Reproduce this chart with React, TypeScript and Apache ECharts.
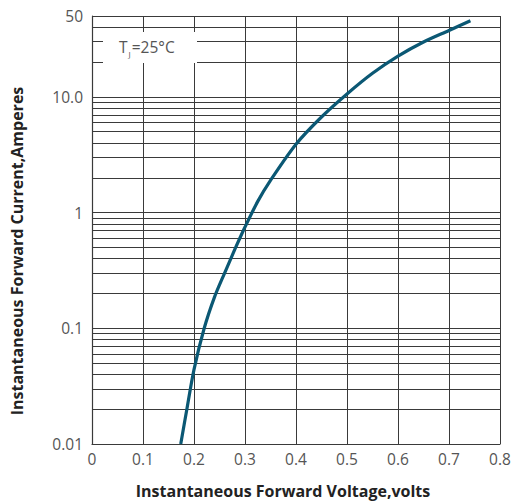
import React, { useEffect, useRef } from "react";
import * as echarts from "echarts";

const xTicks = [0, 0.1, 0.2, 0.3, 0.4, 0.5, 0.6, 0.7, 0.8];
const voltage = [0.174, 0.186, 0.2, 0.22, 0.24, 0.26, 0.28, 0.3, 0.325, 0.35, 0.4, 0.45, 0.5, 0.55, 0.6, 0.65, 0.7, 0.742];
const current = [0.01, 0.02, 0.044, 0.1, 0.185, 0.3, 0.48, 0.75, 1.25, 1.9, 3.9, 6.7, 10.6, 16, 22.5, 29.8, 37.5, 45.5];
const minorGrid = [
  0.02, 0.03, 0.04, 0.05, 0.06, 0.07, 0.08, 0.09,
  0.2, 0.3, 0.4, 0.5, 0.6, 0.7, 0.8, 0.9,
  2, 3, 4, 5, 6, 7, 8, 9,
  20, 30, 40,
];
const xName = "Instantaneous Forward Voltage,volts";
const yName = "Instantaneous Forward Current,Amperes";
const tempLabel = "{a|T}{b|J}{a|=25°C}";

export default function App() {
  const ref = useRef<HTMLDivElement>(null);
  useEffect(() => {
    if (!ref.current) return;
    const chart = echarts.init(ref.current, null, { renderer: "svg" });
    const font = "'Open Sans', 'Noto Sans', sans-serif";
    const gridColor = "#3a3a3a";
    chart.setOption({
      animation: false,
      backgroundColor: "#ffffff",
      grid: { left: 92, right: 15, top: 16, bottom: 59, containLabel: false },
      xAxis: {
        type: "value",
        min: 0,
        max: 0.8,
        interval: 0.1,
        axisLine: { show: true, lineStyle: { color: gridColor, width: 1.2 } },
        axisTick: { show: false },
        axisLabel: {
          fontFamily: font,
          fontSize: 15.5,
          color: "#555",
          margin: 7,
          formatter: (v: number) => {
            const m = xTicks.find((t) => Math.abs(t - v) < 1e-6);
            return m === undefined ? "" : String(m);
          },
        },
        splitLine: { show: true, lineStyle: { color: gridColor, width: 1 } },
      },
      yAxis: {
        type: "log",
        min: 0.01,
        max: 50,
        logBase: 10,
        axisLine: { show: true, lineStyle: { color: gridColor, width: 1.2 } },
        axisTick: { show: false },
        axisLabel: {
          fontFamily: font,
          fontSize: 15.5,
          color: "#555",
          margin: 9,
          formatter: (v: number) => {
            if (Math.abs(v - 10) < 1e-6) return "10.0";
            return String(parseFloat(v.toPrecision(6)));
          },
        },
        splitLine: { show: true, lineStyle: { color: gridColor, width: 1 } },
      },
      series: [
        {
          type: "line",
          data: voltage.map((v, i) => [v, current[i]]),
          smooth: 0.3,
          showSymbol: false,
          lineStyle: { color: "#0b5874", width: 3.2 },
          z: 5,
          markLine: {
            silent: true,
            symbol: "none",
            label: { show: false },
            lineStyle: { color: gridColor, width: 1, type: "solid" },
            data: minorGrid.map((g) => ({ yAxis: g })),
          },
        },
      ],
      graphic: [
        {
          type: "rect",
          shape: { x: 103, y: 32, width: 94, height: 31 },
          style: { fill: "#ffffff" },
          z: 100,
        },
        {
          type: "text",
          x: 119,
          y: 37,
          z: 101,
          style: {
            text: tempLabel,
            rich: {
              a: { fontFamily: font, fontSize: 15.5, fill: "#555", lineHeight: 20 },
              b: { fontFamily: font, fontSize: 8, fill: "#555", lineHeight: 20, padding: [12, 1, 0, 1] },
            },
          },
        },
        {
          type: "text",
          x: 283,
          y: 491,
          z: 101,
          style: {
            text: xName,
            fontFamily: font,
            fontWeight: "bold",
            fontSize: 16,
            fill: "#222",
            align: "center",
            verticalAlign: "middle",
          },
        },
        {
          type: "text",
          x: 17,
          y: 251,
          rotation: Math.PI / 2,
          z: 101,
          style: {
            text: yName,
            fontFamily: font,
            fontWeight: "bold",
            fontSize: 16,
            fill: "#222",
            align: "center",
            verticalAlign: "middle",
          },
        },
      ],
    });
    return () => chart.dispose();
  }, []);
  return (
    <div
      ref={ref}
      style={{ position: "fixed", left: 0, top: 0, width: 515, height: 503 }}
    />
  );
}
